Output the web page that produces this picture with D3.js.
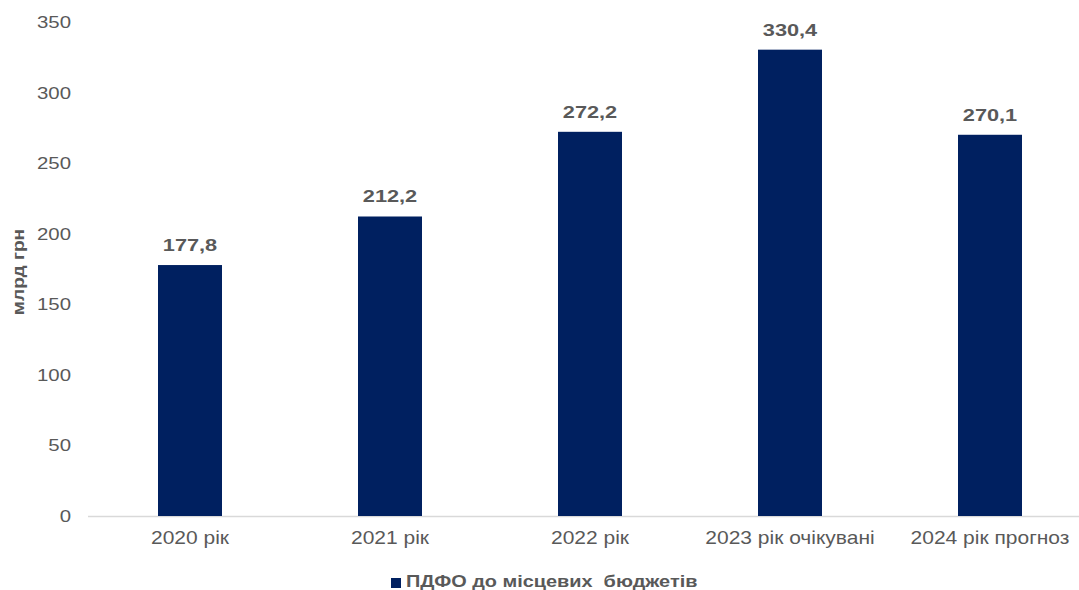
<!DOCTYPE html>
<html><head><meta charset="utf-8">
<script src="https://cdn.jsdelivr.net/npm/d3@7"></script>
<style>body{margin:0;background:#fff}svg{display:block}</style>
</head><body>
<svg id="c" width="1079" height="590"></svg>
<script>
const categories = ["2020 рік","2021 рік","2022 рік","2023 рік очікувані","2024 рік прогноз"];
const values = [177.8, 212.2, 272.2, 330.4, 270.1];
const valueLabels = ["177,8","212,2","272,2","330,4","270,1"];
const yTicks = [0,50,100,150,200,250,300,350];
const seriesName = "ПДФО до місцевих  бюджетів";
const yTitle = "млрд грн";

const svg = d3.select("#c");
const font = "Arial, 'Liberation Sans', sans-serif";
const SX = 1.2;
const x = d3.scaleBand().domain(categories).range([90,1090]).paddingInner(0.68).paddingOuter(0.34);
const y = d3.scaleLinear().domain([0,350]).range([516,22]);

// axis line
svg.append("line").attr("x1",88).attr("x2",1090).attr("y1",y(0)+0.5).attr("y2",y(0)+0.5)
  .attr("stroke","#d9d9d9").attr("stroke-width",1.5);

// y tick labels
svg.selectAll(".yt").data(yTicks).enter().append("text")
  .attr("transform",d=>`translate(71,${y(d)}) scale(${SX},1)`).attr("dy","0.35em").attr("text-anchor","end")
  .attr("font-family",font).attr("font-size",17).attr("fill","#595959").text(d=>d);

// y title
svg.append("text").attr("transform",`translate(24,272) rotate(-90) scale(${SX},1)`).attr("text-anchor","middle")
  .attr("font-family",font).attr("font-size",16).attr("font-weight","bold").attr("fill","#595959").text(yTitle);

// bars
svg.selectAll(".bar").data(values).enter().append("rect")
  .attr("x",(d,i)=>x(categories[i])).attr("width",x.bandwidth())
  .attr("y",d=>y(d)).attr("height",d=>y(0)-y(d)).attr("fill","#002060");

// value labels
svg.selectAll(".vl").data(values).enter().append("text")
  .attr("transform",(d,i)=>`translate(${x(categories[i])+x.bandwidth()/2},${y(d)-14}) scale(1.28,1)`)
  .attr("text-anchor","middle").attr("font-family",font).attr("font-size",17).attr("font-weight","bold")
  .attr("fill","#595959").text((d,i)=>valueLabels[i]);

// category labels
svg.selectAll(".cl").data(categories).enter().append("text")
  .attr("transform",d=>`translate(${x(d)+x.bandwidth()/2},544) scale(${SX},1)`).attr("text-anchor","middle")
  .attr("font-family",font).attr("font-size",17.5).attr("fill","#595959").text(d=>d);

// legend
svg.append("rect").attr("x",391).attr("y",578).attr("width",10).attr("height",10).attr("fill","#002060");
svg.append("text").attr("transform",`translate(406,587) scale(1.17,1)`).attr("font-family",font).attr("font-size",17)
  .attr("font-weight","bold").attr("fill","#595959").style("white-space","pre").text(seriesName);
</script>
</body></html>
